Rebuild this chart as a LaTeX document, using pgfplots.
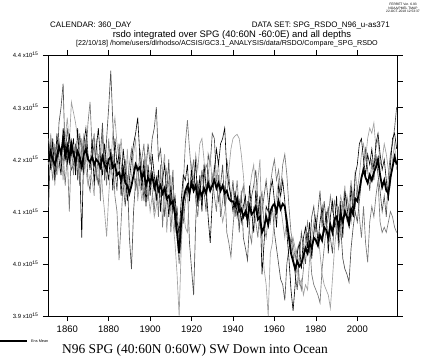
\documentclass[border=0pt]{standalone}
\usepackage{pgfplots}
\usepackage{pgfplotstable}
\pgfplotsset{compat=1.18}
\usepackage{fontspec}
\setmainfont{Liberation Sans}
\newfontfamily\seriffont{Liberation Serif}
\definecolor{gA}{HTML}{000000}
\definecolor{gB}{HTML}{505050}
\definecolor{gC}{HTML}{787878}
\definecolor{gD}{HTML}{A0A0A0}
\pgfplotstableread{
year m1 m2 m3 m4 mean
1851 4.23 4.108 4.24 4.19 4.195
1852 4.18 4.24 4.20 4.25 4.215
1853 4.24 4.19 4.16 4.21 4.200
1854 4.16 4.22 4.23 4.15 4.190
1855 4.25 4.17 4.19 4.21 4.205
1856 4.20 4.27 4.24 4.18 4.225
1857 4.17 4.30 4.18 4.22 4.210
1858 4.26 4.345 4.21 4.16 4.240
1859 4.23 4.20 4.15 4.24 4.205
1860 4.19 4.26 4.21 4.28 4.225
1861 4.25 4.22 4.10 4.23 4.200
1862 4.21 4.18 4.23 4.31 4.230
1863 4.24 4.19 4.17 4.29 4.210
1864 4.17 4.23 4.22 4.27 4.195
1865 4.26 4.16 4.20 4.24 4.215
1866 4.19 4.25 4.15 4.22 4.205
1867 4.05 4.21 4.24 4.20 4.185
1868 4.23 4.17 4.19 4.25 4.210
1869 4.26 4.24 4.20 4.18 4.220
1870 4.21 4.16 4.27 4.15 4.200
1871 4.18 4.14 4.31 4.17 4.195
1872 4.24 4.20 4.22 4.16 4.205
1873 4.15 4.23 4.25 4.13 4.190
1874 4.22 4.18 4.16 4.24 4.200
1875 4.26 4.15 4.21 4.19 4.195
1876 4.20 4.21 4.12 4.22 4.185
1877 4.17 4.27 4.25 4.14 4.205
1878 4.23 4.16 4.20 4.10 4.190
1879 4.19 4.24 4.15 4.052 4.180
1880 4.16 4.30 4.24 4.13 4.200
1881 4.22 4.37 4.18 4.19 4.205
1882 4.14 4.27 4.21 4.25 4.185
1883 4.24 4.18 4.13 4.28 4.190
1884 4.19 4.14 4.10 4.23 4.170
1885 4.21 4.23 4.007 4.20 4.175
1886 4.13 4.19 4.08 4.24 4.160
1887 4.22 4.15 4.16 4.18 4.180
1888 4.18 4.11 4.20 4.13 4.155
1889 4.12 4.17 4.15 4.22 4.150
1890 4.16 4.05 4.19 4.14 4.135
1891 4.20 3.99 4.22 4.17 4.150
1892 4.23 4.10 4.18 4.21 4.170
1893 4.25 4.16 4.14 4.24 4.190
1894 4.28 4.14 4.19 4.12 4.180
1895 4.21 4.22 4.15 4.16 4.185
1896 4.14 4.19 4.20 4.12 4.165
1897 4.20 4.12 4.23 4.16 4.175
1898 4.11 4.18 4.16 4.21 4.150
1899 4.19 4.23 4.12 4.14 4.165
1900 4.13 4.19 4.18 4.10 4.155
1901 4.21 4.24 4.14 4.13 4.170
1902 4.17 4.26 4.10 4.09 4.145
1903 4.12 4.30 4.17 4.11 4.160
1904 4.18 4.20 4.09 4.15 4.140
1905 4.10 4.22 4.19 4.13 4.150
1906 4.16 4.17 4.07 4.18 4.135
1907 4.19 4.09 4.14 4.21 4.145
1908 4.14 4.13 4.18 4.06 4.125
1909 4.09 4.20 4.15 4.12 4.130
1910 4.15 4.10 4.06 4.17 4.115
1911 4.10 4.18 4.13 4.08 4.120
1912 4.13 4.06 4.12 4.04 4.095
1913 4.08 4.11 4.05 3.98 4.060
1914 4.06 4.04 4.00 3.90 4.020
1915 4.12 4.10 4.05 4.03 4.080
1916 4.17 4.08 4.15 4.11 4.120
1917 4.16 4.12 4.23 4.07 4.140
1918 4.19 4.15 4.275 4.06 4.150
1919 4.12 4.04 4.22 4.14 4.135
1920 4.18 3.99 4.17 4.19 4.155
1921 4.14 3.94 4.20 4.16 4.140
1922 4.20 4.08 4.12 4.21 4.150
1923 4.11 4.16 4.09 4.18 4.125
1924 4.17 4.12 4.15 4.23 4.140
1925 4.10 4.18 4.11 4.24 4.130
1926 4.19 4.14 4.16 4.20 4.145
1927 4.15 4.10 4.19 4.13 4.135
1928 4.09 4.21 4.18 4.16 4.155
1929 4.04 4.19 4.14 4.21 4.140
1930 4.12 4.25 4.17 4.15 4.150
1931 4.18 4.24 4.13 4.19 4.160
1932 4.22 4.16 4.10 4.14 4.145
1933 4.19 4.12 4.17 4.20 4.155
1934 4.23 4.15 4.09 4.11 4.140
1935 4.24 4.19 4.12 4.08 4.150
1936 4.26 4.11 4.15 4.10 4.135
1937 4.18 4.20 4.06 4.13 4.140
1938 4.15 4.17 4.04 4.18 4.125
1939 4.13 4.12 4.013 4.22 4.120
1940 4.10 4.16 4.07 4.24 4.120
1941 4.14 4.09 4.12 4.245 4.110
1942 4.09 4.13 4.16 4.248 4.125
1943 4.12 4.06 4.10 4.24 4.100
1944 4.08 4.14 4.13 4.21 4.105
1945 4.11 4.05 4.15 4.17 4.090
1946 4.13 4.03 4.09 4.12 4.100
1947 4.07 4.007 4.12 4.08 4.085
1948 4.15 4.08 4.06 4.14 4.110
1949 4.10 4.13 4.04 4.17 4.095
1950 4.06 4.15 4.11 4.19 4.100
1951 4.14 4.18 4.08 4.12 4.110
1952 4.09 4.12 4.05 4.16 4.085
1953 4.13 4.07 4.11 4.20 4.090
1954 3.98 4.10 4.14 4.06 4.060
1955 4.04 4.13 4.07 3.99 4.070
1956 4.11 4.16 4.05 3.96 4.090
1957 4.10 4.12 4.09 3.90 4.075
1958 4.14 4.08 4.15 4.02 4.100
1959 4.16 4.11 4.18 4.04 4.110
1960 4.12 4.06 4.20 4.09 4.115
1961 4.07 4.03 4.16 4.13 4.100
1962 4.15 4.00 4.18 4.16 4.120
1963 4.13 3.97 4.14 4.11 4.105
1964 4.16 3.96 4.19 4.08 4.115
1965 4.12 3.93 4.21 4.05 4.110
1966 4.06 4.00 4.17 4.09 4.080
1967 4.01 4.03 4.11 4.06 4.050
1968 3.95 4.05 4.06 4.02 4.020
1969 3.91 4.02 4.04 4.05 4.005
1970 3.96 3.98 4.01 4.03 3.990
1971 4.02 3.95 4.03 3.99 4.005
1972 4.04 4.01 3.97 3.96 3.995
1973 3.99 4.06 3.95 3.97 4.000
1974 4.05 4.03 3.99 3.94 4.015
1975 4.07 4.00 4.05 3.96 4.030
1976 4.03 4.06 4.08 3.95 4.020
1977 4.08 4.02 4.04 4.01 4.040
1978 4.01 4.09 3.98 4.05 4.030
1979 4.06 4.11 3.96 4.08 4.050
1980 4.09 4.06 3.95 4.04 4.045
1981 4.04 4.10 3.94 4.06 4.035
1982 4.08 4.14 3.925 4.02 4.055
1983 4.11 4.07 3.99 3.98 4.045
1984 4.06 4.12 4.03 3.96 4.070
1985 4.10 4.08 4.07 3.95 4.065
1986 4.02 4.11 4.09 3.94 4.050
1987 4.09 4.05 4.13 3.915 4.075
1988 4.12 4.02 4.10 3.97 4.060
1989 4.07 4.09 4.12 4.03 4.085
1990 4.13 4.06 4.08 4.07 4.090
1991 4.04 4.11 4.03 4.10 4.070
1992 4.12 4.07 4.06 4.13 4.095
1993 4.05 4.01 4.12 4.11 4.080
1994 4.14 3.99 4.09 4.15 4.100
1995 4.11 3.98 4.13 4.08 4.090
1996 4.08 3.965 4.10 4.12 4.075
1997 4.15 4.03 4.08 4.16 4.105
1998 4.09 4.07 4.14 4.12 4.095
1999 4.17 4.10 4.11 4.18 4.125
2000 4.19 4.08 4.15 4.14 4.120
2001 4.23 4.12 4.09 4.17 4.140
2002 4.24 4.16 4.05 4.21 4.165
2003 4.20 4.19 4.11 4.23 4.180
2004 4.17 4.22 4.04 4.20 4.165
2005 4.21 4.18 4.003 4.24 4.155
2006 4.19 4.14 4.08 4.26 4.170
2007 4.22 4.20 4.11 4.25 4.160
2008 4.18 4.16 4.09 4.27 4.175
2009 4.23 4.21 4.13 4.22 4.185
2010 4.25 4.17 4.16 4.24 4.200
2011 4.21 4.14 4.08 4.19 4.170
2012 4.18 4.10 4.06 4.20 4.147
2013 4.20 4.13 4.07 4.23 4.160
2014 4.16 4.09 4.06 4.21 4.140
2015 4.12 4.17 4.08 4.18 4.135
2016 4.19 4.21 4.10 4.15 4.165
2017 4.24 4.23 4.09 4.20 4.185
2018 4.25 4.26 4.07 4.23 4.205
2019 4.22 4.30 4.06 4.18 4.190
}\data
\begin{document}
\begin{tikzpicture}[x=1bp,y=1bp]
\useasboundingbox (-48,-42) rectangle (373,316);
\begin{axis}[
  at={(0,0)}, anchor=south west,
  scale only axis, width=349.7bp, height=261bp,
  xmin=1850.7, xmax=2019.5, ymin=3.9, ymax=4.4,
  xtick={1860,1880,...,2000},
  ytick={3.9,4.0,4.1,4.2,4.3,4.4},
  yticklabels={3.9 x10\textsuperscript{15},4.0 x10\textsuperscript{15},4.1 x10\textsuperscript{15},4.2 x10\textsuperscript{15},4.3 x10\textsuperscript{15},4.4 x10\textsuperscript{15}},
  minor ytick={3.95,4.05,4.15,4.25,4.35},
  xtick pos=both, ytick pos=both,
  xticklabel pos=bottom, yticklabel pos=left,
  tick align=outside,
  major tick length=5bp, minor tick length=5bp,
  every tick/.style={black, line width=0.5pt},
  axis line style={black, line width=0.6pt},
  /pgf/number format/assume math mode=true,
  /pgf/number format/1000 sep={},
  xticklabel style={font=\fontsize{9.5}{10}\selectfont, yshift=-1bp},
  yticklabel style={font=\fontsize{6}{6.5}\selectfont, xshift=-1bp},
  clip=true,
]
\addplot[gB, line width=0.65pt] table[x=year,y=m2]{\data};
\addplot[gD, line width=0.65pt] table[x=year,y=m4]{\data};
\addplot[gC, line width=0.65pt] table[x=year,y=m3]{\data};
\addplot[gA, line width=0.6pt] table[x=year,y=m1]{\data};
\addplot[black, line width=1.8pt] table[x=year,y=mean]{\data};
\end{axis}
\node[font=\fontsize{3.3}{3.6}\selectfont, align=center, inner sep=0pt] at (355,308) {FERRET Ver. 6.93\\NOAA/PMEL TMAP\\22-OCT-2018 12:53:37};
\node[font=\fontsize{8}{9}\selectfont, anchor=west, inner sep=0pt] at (2,290.5) {CALENDAR: 360\_DAY};
\node[font=\fontsize{8}{9}\selectfont, anchor=east, inner sep=0pt] at (342,290.5) {DATA SET: SPG\_RSDO\_N96\_u-as371};
\node[font=\fontsize{9.5}{10}\selectfont, inner sep=0pt] at (184,281) {rsdo integrated over SPG (40:60N -60:0E) and all depths};
\node[font=\fontsize{7.2}{8}\selectfont, inner sep=0pt] at (179,272) {[22/10/18] /home/users/dlrhodso/ACSIS/GC3.1\_ANALYSIS/data/RSDO/Compare\_SPG\_RSDO};
\draw[black, line width=1.4pt] (-48,-25) -- (-21,-25);
\node[font=\fontsize{3.8}{4}\selectfont, anchor=west, inner sep=0pt] at (-17,-25) {Ens Mean};
\node[font=\seriffont\fontsize{13.5}{14}\selectfont, inner sep=0pt] at (147,-34) {N96 SPG (40:60N 0:60W) SW Down into Ocean};
\end{tikzpicture}
\end{document}
